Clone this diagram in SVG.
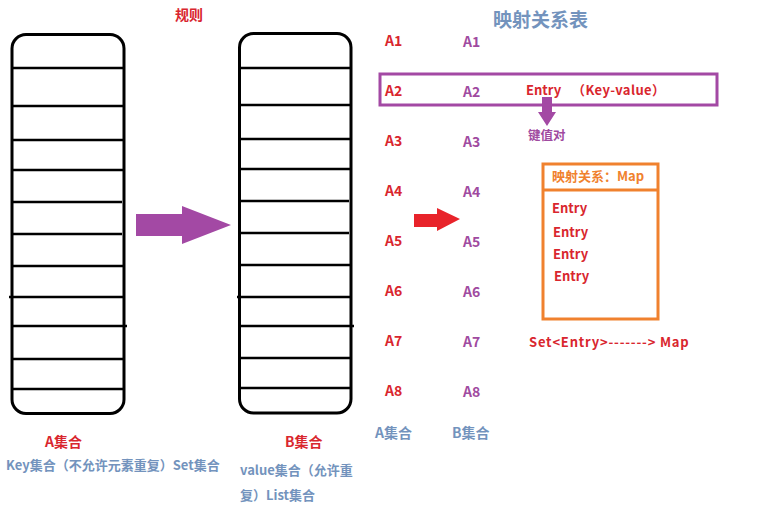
<svg xmlns="http://www.w3.org/2000/svg" width="766" height="511" viewBox="0 0 766 511">
<style>
text{font-family:"Noto Sans CJK SC","Microsoft YaHei","Noto Sans",sans-serif;font-weight:bold;}
.red{fill:#d9262e;font-size:14px;}
.pur{fill:#a04aa0;font-size:14px;}
.blu{fill:#7393bd;font-size:13px;}
.bar{fill:none;stroke:#000;stroke-width:3;}
.ln{stroke:#000;stroke-width:2.5;}
</style>
<rect width="766" height="511" fill="#fff"/>
<text x="175" y="20" class="red" font-size="14">规则</text>
<g id="setA">
<rect class="bar" x="12" y="34.5" width="112" height="379" rx="14"/>
<g class="ln">
<line x1="12" y1="68" x2="124" y2="68"/><line x1="12" y1="106" x2="124" y2="106"/>
<line x1="12" y1="140" x2="124" y2="140"/><line x1="12" y1="170" x2="124" y2="170"/>
<line x1="12" y1="202" x2="122" y2="202"/><line x1="12" y1="234" x2="122" y2="234"/>
<line x1="12" y1="266" x2="124" y2="266"/><line x1="9" y1="297" x2="124" y2="297"/>
<line x1="12" y1="326" x2="127" y2="326"/><line x1="12" y1="359" x2="124" y2="359"/>
<line x1="12" y1="389" x2="124" y2="389"/>
</g>
</g>
<g id="setB">
<rect class="bar" x="239.5" y="33.5" width="111.5" height="379.5" rx="14"/>
<g class="ln">
<line x1="239" y1="68" x2="351" y2="68"/><line x1="239" y1="105" x2="351" y2="105"/>
<line x1="239" y1="139" x2="351" y2="139"/><line x1="239" y1="169" x2="351" y2="169"/>
<line x1="239" y1="201" x2="349" y2="201"/><line x1="239" y1="233" x2="349" y2="233"/>
<line x1="239" y1="265" x2="351" y2="265"/><line x1="237" y1="297" x2="351" y2="297"/>
<line x1="239" y1="326" x2="354" y2="326"/><line x1="239" y1="358" x2="351" y2="358"/>
<line x1="239" y1="388" x2="351" y2="388"/>
</g>
</g>
<g id="connectors">
<polygon points="136,214 182,214 182,206 231,225 182,244 182,236 136,236" fill="#a349a4"/>
<polygon points="414,214 437,214 437,208 460,219 437,231 437,227 414,227" fill="#e8232a"/>
<polygon points="542,97 552,97 552,112 556,112 547,126 538,112 542,112" fill="#a349a4"/>
</g>
<text x="45" y="447" class="red">A集合</text>
<text x="6" y="470" class="blu">Key集合（不允许元素重复）Set集合</text>
<text x="285" y="447" class="red">B集合</text>
<text x="240" y="475" class="blu">value集合（允许重</text>
<text x="240" y="500" class="blu">复）List集合</text>
<text x="493" y="27" class="blu" style="font-size:19px">映射关系表</text>
<g id="colA">
<text x="385" y="46" class="red">A1</text><text x="385" y="96" class="red">A2</text>
<text x="385" y="146" class="red">A3</text><text x="385" y="196" class="red">A4</text>
<text x="385" y="246" class="red">A5</text><text x="385" y="296" class="red">A6</text>
<text x="385" y="346" class="red">A7</text><text x="385" y="396" class="red">A8</text>
</g>
<g id="colB">
<text x="463" y="47" class="pur">A1</text><text x="463" y="97" class="pur">A2</text>
<text x="463" y="147" class="pur">A3</text><text x="463" y="197" class="pur">A4</text>
<text x="463" y="247" class="pur">A5</text><text x="463" y="297" class="pur">A6</text>
<text x="463" y="347" class="pur">A7</text><text x="463" y="397" class="pur">A8</text>
</g>
<text x="375" y="438" class="blu" style="font-size:14px">A集合</text>
<text x="452" y="438" class="blu" style="font-size:14px">B集合</text>
<g id="entryRow">
<rect x="380" y="74" width="337" height="31" fill="none" stroke="#a349a4" stroke-width="3"/>
<text y="95" class="red" style="font-size:13px"><tspan x="526">Entry</tspan><tspan x="572" letter-spacing="0.4">（Key-value）</tspan></text>
</g>
<text x="528" y="140" class="pur" style="font-size:12.5px">键值对</text>
<g id="map">
<rect x="543" y="164" width="115" height="155" fill="none" stroke="#f0812e" stroke-width="3"/>
<line x1="543" y1="190" x2="658" y2="190" stroke="#f0812e" stroke-width="3"/>
<text x="552" y="181" style="font-size:13px;fill:#f0812e">映射关系：Map</text>
<text x="552" y="213" class="red" style="font-size:13px">Entry</text>
<text x="553" y="237" class="red" style="font-size:13px">Entry</text>
<text x="553" y="259" class="red" style="font-size:13px">Entry</text>
<text x="554" y="281" class="red" style="font-size:13px">Entry</text>
</g>
<text x="529" y="347" class="red" style="font-size:13px" letter-spacing="0.8">Set&lt;Entry&gt;-------&gt; Map</text>
</svg>
